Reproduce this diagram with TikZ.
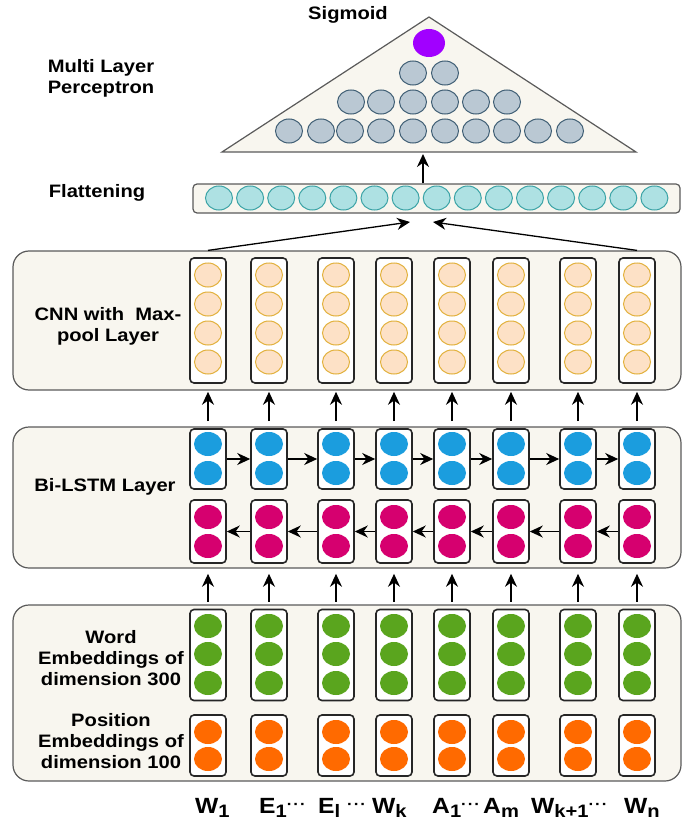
\documentclass[tikz,border=0pt]{standalone}
\usepackage{fontspec}
\setmainfont{Liberation Sans}[FakeStretch=1.12]
\usetikzlibrary{arrows.meta,shapes.geometric}

\definecolor{paper}{HTML}{F8F6EF}
\definecolor{boxgray}{HTML}{5A5A5A}
\definecolor{sigpurple}{HTML}{A100FF}
\definecolor{mlpfill}{HTML}{BAC8D3}
\definecolor{mlpline}{HTML}{3F5E74}
\definecolor{flatfill}{HTML}{AEE1E3}
\definecolor{flatline}{HTML}{3BA3A6}
\definecolor{cnnfill}{HTML}{FDE1C6}
\definecolor{cnnline}{HTML}{E2B13C}
\definecolor{fwdblue}{HTML}{1B9DDE}
\definecolor{bwdred}{HTML}{D6006F}
\definecolor{wordgreen}{HTML}{5AA51E}
\definecolor{posorange}{HTML}{FF6A00}

\newcommand{\lsub}[1]{\raisebox{-0.4ex}{\fontsize{18}{18}\selectfont #1}}
\newcommand{\tokdots}{\raisebox{0.3ex}{\fontsize{15}{15}\selectfont\textperiodcentered\kern1pt\textperiodcentered\kern1pt\textperiodcentered}}

\tikzset{
  layerbox/.style={draw=boxgray, fill=paper, line width=1.2pt, rounded corners=16pt, minimum width=668pt},
  cellbox/.style={draw=black!85, fill=white, line width=1.6pt, rounded corners=4pt, minimum width=36pt, inner sep=0pt},
  unit/.style={ellipse, minimum width=27pt, minimum height=24pt, inner sep=0pt, line width=1pt},
  mlpunit/.style={unit, draw=mlpline, fill=mlpfill},
  lbl/.style={font=\bfseries\fontsize{18}{21}\selectfont, align=center, inner sep=0pt},
  tok/.style={font=\bfseries\fontsize{22}{22}\selectfont, inner sep=0pt, anchor=base west},
}

\begin{document}
\begin{tikzpicture}[x=1pt,y=-1pt,>={Stealth[length=13pt,width=12pt]}]
        \useasboundingbox (0,0) rectangle (682,832);
        % multi layer perceptron
        \draw [fill=paper, draw=boxgray, line width=1.2pt] (222,152) coordinate (mlpL) -- (429,17) coordinate (mlpT) -- (636,152) coordinate (mlpR) -- cycle;
        \node[unit, fill=sigpurple, minimum width=32pt, minimum height=28pt] (sig) at (429,43) {};
        \foreach \x in {413,445} \node[mlpunit] at (\x,73) {};
        \foreach \x in {351,381,413,445,476,507} \node[mlpunit] at (\x,102) {};
        \foreach \x in {289,321,350,381,413,445,476,507,538,570} \node[mlpunit] at (\x,131) {};
        \node[lbl] (sigtxt) at (348,15) {Sigmoid};
        \node[lbl] (mlptxt) at (101,78) {Multi Layer\\Perceptron};
        \coordinate (mlpin) at (423,154);

        % flattening
        \node[draw=boxgray, fill=paper, line width=1.2pt, rounded corners=4pt, minimum width=487pt, minimum height=29pt] (flat) at (436.5,198.5) {};
        \foreach \i in {0,...,14} \node[unit, draw=flatline, fill=flatfill] at (219+31.1*\i,198) {};
        \node[lbl] (flattxt) at (97,193) {Flattening};
        \draw[->, line width=1.3pt] (flat.north -| mlpin) -- (mlpin);

        % the three layer boxes
        \node[layerbox, minimum height=139pt] (cnnbox) at (347,320.5) {};
        \node[layerbox, minimum height=141pt] (lstmbox) at (347,497.5) {};
        \node[layerbox, minimum height=176pt] (embbox) at (347,693) {};
        \node[lbl] (cnntxt) at (108,326) {CNN with\ \ Max-\\pool Layer};
        \node[lbl] (lstmtxt) at (105,487) {Bi-LSTM Layer};
        \node[lbl] (wordtxt) at (111,658) {Word\\Embeddings of\\dimension 300};
        \node[lbl] (postxt) at (111,741) {Position\\Embeddings of\\dimension 100};

        % one column of cells per token
        \foreach \x [count=\i] in {208,269,336,394,452,511,578,637} {
          \node[cellbox, minimum height=125pt] (cnn\i) at (\x,320.5) {};
          \foreach \y in {275,304,333,362} \node[unit, draw=cnnline, fill=cnnfill] at (\x,\y) {};
          \node[cellbox, minimum height=60pt] (up\i) at (\x,459) {};
          \foreach \y in {444,473} \node[unit, fill=fwdblue, minimum width=28pt] at (\x,\y) {};
          \node[cellbox, minimum height=63pt] (lo\i) at (\x,531.5) {};
          \foreach \y in {517,546} \node[unit, fill=bwdred, minimum width=28pt] at (\x,\y) {};
          \node[cellbox, minimum height=91pt] (wd\i) at (\x,655) {};
          \foreach \y in {626,654,683} \node[unit, fill=wordgreen, minimum width=28pt] at (\x,\y) {};
          \node[cellbox, minimum height=61pt] (ps\i) at (\x,745.5) {};
          \foreach \y in {732,759} \node[unit, fill=posorange, minimum width=28pt] at (\x,\y) {};
          \draw[->, line width=1.4pt, shorten <=7pt, shorten >=8pt] (up\i.north) -- (cnn\i.south);
          \draw[->, line width=1.4pt, shorten <=7pt, shorten >=10pt] (wd\i.north) -- (lo\i.south);
        }

        % recurrent connections
        \foreach \i [evaluate=\i as \j using int(\i+1)] in {1,...,7} {
          \draw[->, line width=1.4pt] (up\i.east) -- (up\j.west);
          \draw[->, line width=1.4pt] (lo\j.west) -- (lo\i.east);
        }

        % cnn to flattening
        \coordinate (fin1) at (410,222);
        \coordinate (fin2) at (433,222);
        \draw[->, line width=1.3pt] (cnnbox.north -| cnn1) -- (fin1);
        \draw[->, line width=1.3pt] (cnnbox.north -| cnn8) -- (fin2);

        % input tokens
        \node[tok] (tokW1) at (195,813) {W\lsub{1}};
        \node[tok] (tokE1) at (259,813) {E\lsub{1}\tokdots};
        \node[tok] (tokEl) at (318,813) {E\lsub{l}};
        \node[tok] (dotsA) at (347,813) {\tokdots};
        \node[tok] (tokWk) at (372,813) {W\lsub{k}};
        \node[tok] (tokA1) at (432,813) {A\lsub{1}\tokdots};
        \node[tok] (tokAm) at (483,813) {A\lsub{m}};
        \node[tok] (tokWk1) at (531,813) {W\lsub{k+1}\tokdots};
        \node[tok] (tokWn) at (624,813) {W\lsub{n}};
\end{tikzpicture}
\end{document}
